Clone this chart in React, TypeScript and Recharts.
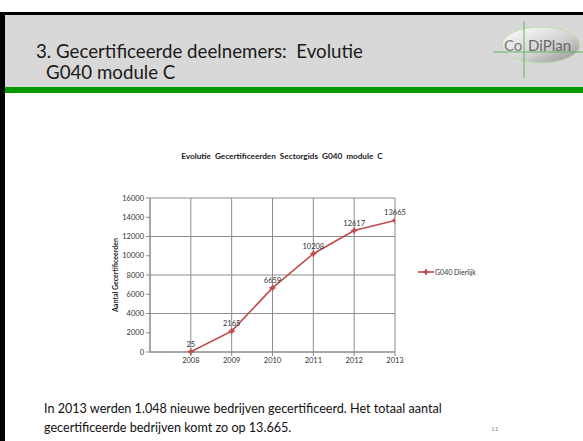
import React from 'react';
import { CartesianGrid, LabelList, Line, LineChart, XAxis, YAxis } from 'recharts';

const years = [2008, 2009, 2010, 2011, 2012, 2013];
const certified = [25, 2165, 6659, 10208, 12617, 13665];
const yTicks = [0, 2000, 4000, 6000, 8000, 10000, 12000, 14000, 16000];
const seriesName = 'G040 Dierlijk';

const data = years.map((year, i) => ({ year, value: certified[i] }));

const RED = '#BE4B48';
const GRID = '#8C8C8C';
const FONT = 'Lato, "Noto Sans", sans-serif';

function StarDot(props: any) {
  const { cx, cy } = props;
  if (cx == null || cy == null) return null;
  const r = 3.2;
  const s = 1.1;
  const d = `M${cx - r},${cy} L${cx - s},${cy - s} L${cx},${cy - r} L${cx + s},${cy - s} L${cx + r},${cy} L${cx + s},${cy + s} L${cx},${cy + r} L${cx - s},${cy + s} Z`;
  return <path d={d} fill={RED} stroke={RED} strokeWidth={0.6} />;
}

function Logo() {
  return (
    <svg width={583} height={441} style={{ position: 'absolute', left: 0, top: 0 }}>
      <defs>
        <linearGradient id="logoGrad" x1="0" y1="0" x2="1" y2="1">
          <stop offset="0%" stopColor="#ffffff" />
          <stop offset="55%" stopColor="#d4d4d4" />
          <stop offset="100%" stopColor="#8f8f8f" />
        </linearGradient>
      </defs>
      <ellipse cx={541} cy={45} rx={39} ry={18} fill="url(#logoGrad)" stroke="#bfe0a8" strokeWidth={1} />
      <line x1={524} y1={21} x2={524} y2={78} stroke="#5cb85c" strokeWidth={1} />
      <line x1={493} y1={52} x2={583} y2={52} stroke="#5cb85c" strokeWidth={1} />
      <text x={504} y={51} fontFamily={FONT} fontSize={15} fill="#7a7a7a">
        Co
      </text>
      <text x={528} y={51} fontFamily={FONT} fontSize={15} fill="#6a6a6a">
        DiPlan
      </text>
    </svg>
  );
}

export default function App() {
  return (
    <div
      style={{
        position: 'absolute',
        left: 0,
        top: 0,
        width: 583,
        height: 441,
        background: '#fff',
        overflow: 'hidden',
        fontFamily: FONT,
      }}
    >
      {/* slide frame */}
      <div style={{ position: 'absolute', left: 0, top: 12, width: 583, height: 3, background: '#000' }} />
      <div style={{ position: 'absolute', left: 0, top: 12, width: 5, height: 429, background: '#000' }} />
      <div style={{ position: 'absolute', left: 5, top: 15, width: 578, height: 72, background: '#D8D8D8' }} />
      <div style={{ position: 'absolute', left: 5, top: 87, width: 578, height: 6, background: '#009900' }} />

      <div style={{ position: 'absolute', left: 36, top: 41, fontSize: 18.7, color: '#1a1a1a', whiteSpace: 'nowrap', lineHeight: '20px' }}>
        3. Gecertificeerde deelnemers:&nbsp; Evolutie
      </div>
      <div style={{ position: 'absolute', left: 46, top: 62, fontSize: 18.7, color: '#1a1a1a', whiteSpace: 'nowrap', lineHeight: '20px' }}>
        G040 module C
      </div>
      <Logo />

      {/* chart */}
      <div
        style={{
          position: 'absolute',
          left: 90,
          top: 151,
          width: 384,
          textAlign: 'center',
          fontSize: 8.2,
          fontWeight: 700,
          color: '#1a1a1a',
          whiteSpace: 'nowrap',
        }}
      >
        Evolutie&nbsp; Gecertificeerden&nbsp; Sectorgids&nbsp; G040&nbsp; module&nbsp; C
      </div>
      <div
        style={{
          position: 'absolute',
          left: 115,
          top: 275,
          transform: 'translate(-50%, -50%) rotate(-90deg)',
          fontSize: 7,
          fontWeight: 700,
          color: '#1a1a1a',
          whiteSpace: 'nowrap',
        }}
      >
        Aantal Gecertificeerden
      </div>
      <div style={{ position: 'absolute', left: 90, top: 140 }}>
        <LineChart width={380} height={240} data={data} margin={{ top: 58, right: 75, left: 10, bottom: 8 }}>
          <CartesianGrid stroke={GRID} strokeWidth={1} />
          <XAxis
            dataKey="year"
            type="number"
            domain={[2007, 2013]}
            ticks={years}
            allowDataOverflow
            stroke={GRID}
            tickSize={4}
            tick={{ fontSize: 7.5, fill: '#333', fontFamily: FONT }}
            height={20}
          />
          <YAxis
            domain={[0, 16000]}
            ticks={yTicks}
            width={50}
            stroke={GRID}
            tickSize={4}
            tick={{ fontSize: 7.5, fill: '#333', fontFamily: FONT }}
          />
          <Line
            dataKey="value"
            stroke={RED}
            strokeWidth={1.6}
            dot={<StarDot />}
            isAnimationActive={false}
          >
            <LabelList dataKey="value" position="top" offset={5} style={{ fontSize: 7.5, fill: '#333', fontFamily: FONT }} />
          </Line>
        </LineChart>
      </div>

      {/* legend */}
      <svg width={80} height={14} style={{ position: 'absolute', left: 416, top: 265 }}>
        <line x1={2} y1={7} x2={18} y2={7} stroke={RED} strokeWidth={1.6} />
        <StarDot cx={10} cy={7} />
        <text x={19} y={9.5} fontSize={7} fill="#333" fontFamily={FONT}>
          {seriesName}
        </text>
      </svg>

      <div style={{ position: 'absolute', left: 44, top: 399, fontSize: 12.6, color: '#111', lineHeight: '19px', whiteSpace: 'nowrap' }}>
        In 2013 werden 1.048 nieuwe bedrijven gecertificeerd. Het totaal aantal
        <br />
        gecertificeerde bedrijven komt zo op 13.665.
      </div>
      <div style={{ position: 'absolute', left: 491, top: 425, fontSize: 6.5, color: '#8a8a8a' }}>11</div>
    </div>
  );
}
